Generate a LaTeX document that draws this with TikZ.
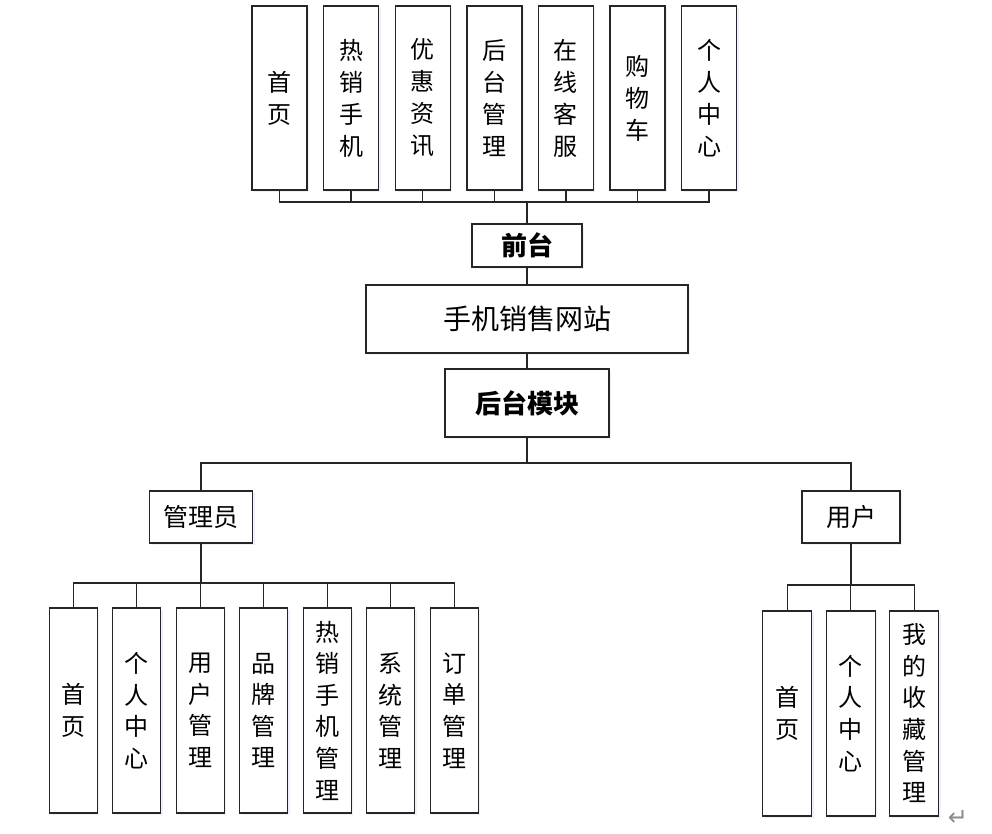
\documentclass[tikz,border=0pt]{standalone}
\usepackage{fontspec}
\newfontfamily\cjk{Noto Sans CJK SC}
\newfontfamily\symf{DejaVu Sans}
\usetikzlibrary{shadows}
\tikzset{
  box/.style={draw=black!85, line width=1.4pt, fill=white, inner sep=0pt, align=center,
    drop shadow={fill=blue!25, opacity=0.25, shadow xshift=2pt, shadow yshift=-2pt}},
  tbox/.style={box, minimum width=55pt, minimum height=184pt, font=\cjk\fontsize{24}{32}\selectfont},
  abox/.style={box, minimum width=48pt, minimum height=205pt, font=\cjk\fontsize{24}{31.6}\selectfont},
  ubox/.style={box, minimum width=49pt, minimum height=205pt, font=\cjk\fontsize{24}{31.6}\selectfont},
  bbox/.style={box, font=\cjk\bfseries\fontsize{26}{30}\selectfont},
  rbox/.style={box, font=\cjk\fontsize{25}{30}\selectfont},
  link/.style={draw=black!85, line width=1.4pt}
}
\begin{document}
\begin{tikzpicture}[x=1pt,y=-1pt]
\useasboundingbox (0,0) rectangle (992,833);
% top modules
\node[tbox] (t1) at (279.5,98) {首\\页};
\node[tbox] (t2) at (351.1,98) {热\\销\\手\\机};
\node[tbox] (t3) at (422.7,98) {优\\惠\\资\\讯};
\node[tbox] (t4) at (494.3,98) {后\\台\\管\\理};
\node[tbox] (t5) at (565.9,98) {在\\线\\客\\服};
\node[tbox] (t6) at (637.5,98) {购\\物\\车};
\node[tbox] (t7) at (709.1,98) {个\\人\\中\\心};
% centre column
\node[bbox, minimum width=110pt, minimum height=43pt] (qt) at (527,245.5) {前台};
\node[rbox, minimum width=322pt, minimum height=68pt, font=\cjk\fontsize{28}{30}\selectfont] (site) at (527,319) {手机销售网站};
\node[bbox, minimum width=164pt, minimum height=68pt] (bt) at (527,403) {后台模块};
% roles
\node[rbox, minimum width=103pt, minimum height=52pt] (adm) at (201,517) {管理员};
\node[rbox, minimum width=98pt, minimum height=52pt] (usr) at (851,517) {用户};
% admin modules
\node[abox] (a1) at (73.2,710.5) {首\\页};
\node[abox] (a2) at (136.7,710.5) {个\\人\\中\\心};
\node[abox] (a3) at (200.2,710.5) {用\\户\\管\\理};
\node[abox] (a4) at (263.7,710.5) {品\\牌\\管\\理};
\node[abox] (a5) at (327.2,710.5) {热\\销\\手\\机\\管\\理};
\node[abox] (a6) at (390.7,710.5) {系\\统\\管\\理};
\node[abox] (a7) at (454.2,710.5) {订\\单\\管\\理};
% user modules
\node[ubox] (u1) at (787.2,713.3) {首\\页};
\node[ubox] (u2) at (850.7,713.3) {个\\人\\中\\心};
\node[ubox] (u3) at (914.2,713.3) {我\\的\\收\\藏\\管\\理};
% connectors
\coordinate (tb) at (527,202);
\foreach \i in {1,...,7} \draw[link] (t\i.south) |- (tb);
\draw[link] (tb) -- (qt.north);
\draw[link] (qt.south) -- (site.north);
\draw[link] (site.south) -- (bt.north);
\coordinate (rb) at (527,463);
\draw[link] (bt.south) -- (rb);
\draw[link] (adm.north) |- (rb);
\draw[link] (usr.north) |- (rb);
\coordinate (ab) at (201,583);
\draw[link] (adm.south) -- (ab);
\foreach \i in {1,...,7} \draw[link] (a\i.north) |- (ab);
\coordinate (ub) at (851,585);
\draw[link] (usr.south) -- (ub);
\foreach \i in {1,2,3} \draw[link] (u\i.north) |- (ub);
% paragraph mark
\node[text=black!45, font=\symf\fontsize{24}{24}\selectfont, inner sep=0pt] (pm) at (958,818) {↵};
\end{tikzpicture}
\end{document}
